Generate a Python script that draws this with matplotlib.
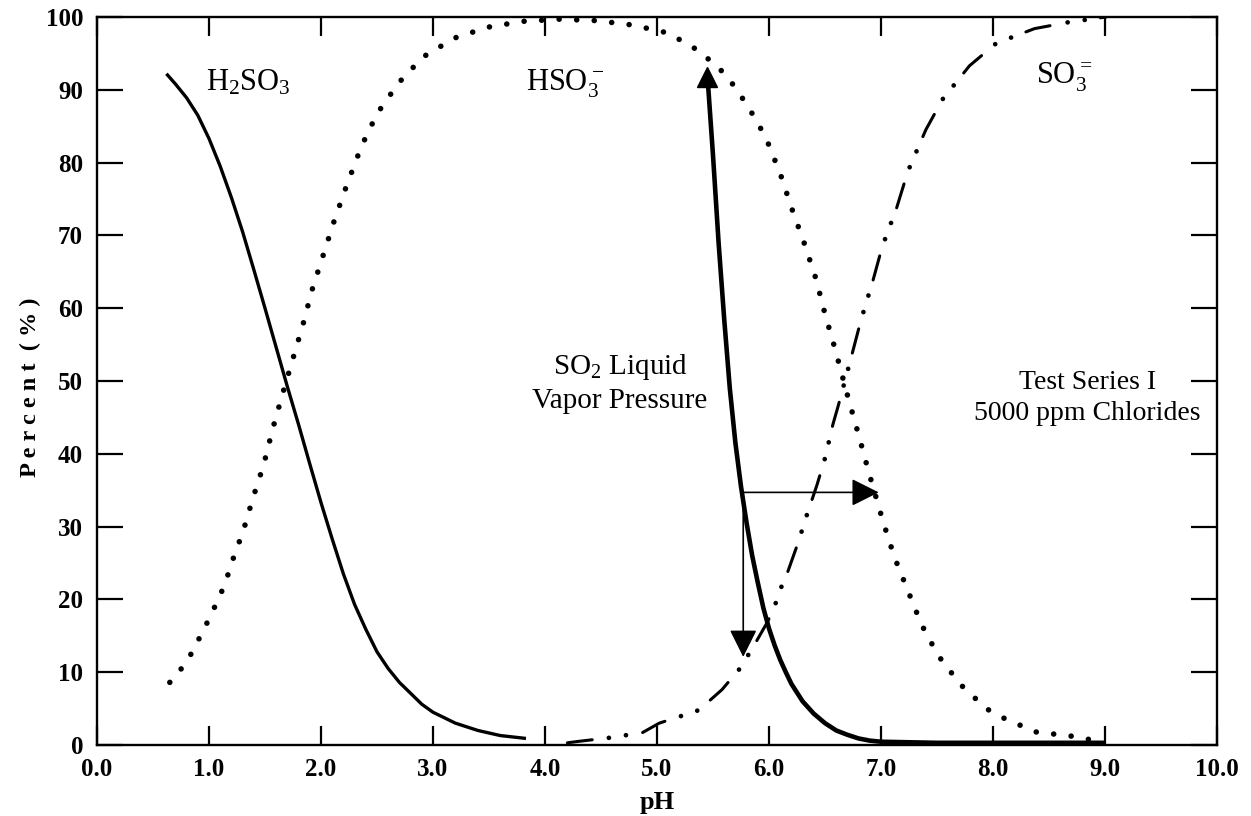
import matplotlib
matplotlib.use("Agg")
import matplotlib.pyplot as plt

plt.rcParams['font.family'] = ['Liberation Serif', 'DejaVu Serif']
plt.rcParams['mathtext.default'] = 'regular'

# H2SO3 (solid)
h2so3_ph = [0.62, 0.7, 0.8, 0.9, 1.0, 1.1, 1.2, 1.3, 1.4, 1.5, 1.6, 1.7, 1.8, 1.9, 2.0,
            2.1, 2.2, 2.3, 2.4, 2.5, 2.6, 2.7, 2.8, 2.9, 3.0, 3.2, 3.4, 3.6, 3.83]
h2so3_pct = [92.2, 90.8, 88.9, 86.5, 83.3, 79.5, 75.2, 70.5, 65.3, 60.0, 54.6, 49.2, 44.0,
             38.6, 33.3, 28.3, 23.5, 19.3, 15.9, 12.8, 10.5, 8.6, 7.1, 5.6, 4.5, 3.0, 2.0,
             1.3, 0.9]

# HSO3- (dotted)
hso3_ph = [0.65, 0.77, 0.86, 0.93, 1.00, 1.07, 1.14, 1.19, 1.24, 1.30, 1.39, 1.49, 1.57,
           1.66, 1.75, 1.84, 1.92, 2.02, 2.12, 2.23, 2.36, 2.50, 2.69, 2.91, 3.19, 3.49,
           3.80, 4.13, 4.46, 4.78, 5.10, 5.38, 5.62, 5.81, 5.97, 6.10, 6.21, 6.32, 6.42,
           6.50, 6.59, 6.71, 6.80, 6.89, 7.02, 7.12, 7.24, 7.36, 7.51, 7.71, 7.94, 8.08,
           8.38, 8.71, 8.88]
hso3_pct = [8.6, 10.8, 13.0, 15.2, 17.3, 19.6, 22.0, 24.4, 26.7, 29.1, 33.8, 38.6, 43.5,
            48.4, 53.1, 57.8, 62.5, 67.3, 72.1, 76.9, 82.2, 86.7, 90.9, 94.5, 97.1, 98.6,
            99.4, 99.7, 99.5, 98.9, 97.8, 95.3, 92.0, 87.8, 83.5, 78.5, 73.4, 68.7, 64.0,
            59.2, 54.4, 47.5, 42.6, 37.5, 30.6, 25.8, 21.2, 16.6, 12.3, 8.3, 5.0, 3.8,
            1.8, 1.2, 0.7]

# SO3= (dash-dot-dot)
so3_ph = [4.20, 4.30, 4.58, 4.87, 5.02, 5.22, 5.35, 5.47, 5.58, 5.74, 5.86, 5.99, 6.06,
          6.11, 6.17, 6.26, 6.34, 6.43, 6.50, 6.57, 6.62, 6.74, 6.82, 6.93, 7.01, 7.14,
          7.24, 7.40, 7.55, 7.79, 8.03, 8.37, 8.68, 9.01]
so3_pct = [0.3, 0.5, 1.0, 1.7, 3.0, 4.0, 4.6, 6.1, 7.6, 10.5, 13.5, 17.0, 19.5,
           21.7, 23.9, 27.8, 31.7, 35.8, 39.4, 44.0, 46.7, 53.6, 58.3, 63.9, 68.4, 73.8,
           78.8, 84.5, 88.7, 93.3, 96.4, 98.4, 99.3, 100.0]

# SO2 liquid vapor pressure (thick)
vp_ph = [5.45, 5.5, 5.55, 5.6, 5.65, 5.7, 5.75, 5.8, 5.85, 5.9, 5.95, 6.0, 6.05, 6.1,
         6.15, 6.2, 6.3, 6.4, 6.5, 6.6, 6.7, 6.8, 6.9, 7.0, 7.5, 9.0]
vp_pct = [92.0, 81.0, 69.0, 58.5, 49.0, 41.5, 35.5, 30.5, 26.0, 22.3, 18.8, 16.0, 13.7,
          11.7, 10.0, 8.4, 6.0, 4.3, 3.0, 2.0, 1.4, 0.9, 0.6, 0.45, 0.3, 0.3]

# arrows from the vapour pressure curve
arrow_start = (5.77, 34.7)
arrow_right_end = (6.98, 34.7)
arrow_down_end = (5.77, 12.1)

x_ticks = [0, 1, 2, 3, 4, 5, 6, 7, 8, 9, 10]
x_labels = ['0.0', '1.0', '2.0', '3.0', '4.0', '5.0', '6.0', '7.0', '8.0', '9.0', '10.0']
y_ticks = [0, 10, 20, 30, 40, 50, 60, 70, 80, 90, 100]

fig = plt.figure(figsize=(12.51, 8.16), dpi=100)
ax = fig.add_axes([97 / 1251, 71 / 816, 1120 / 1251, 728 / 816])

ax.plot(h2so3_ph, h2so3_pct, color='black', lw=2.4, solid_capstyle='butt')
ax.plot(hso3_ph, hso3_pct, color='black', lw=4.0, linestyle=(0, (0.01, 3.15)),
        dash_capstyle='round')

# dash-dot-dot drawn as dashes plus bigger dots, period 54.7 pt
period = 54.7
ax.plot(so3_ph, so3_pct, color='black', lw=2.2,
        linestyle=(0, (18 / 2.2, (period - 18) / 2.2)), dash_capstyle='round')
ax.plot(so3_ph, so3_pct, color='black', lw=3.4,
        linestyle=((period - 30) / 3.4, (0.01, 12.4 / 3.4, 0.01, (period - 12.4) / 3.4)),
        dash_capstyle='round')

ax.plot(vp_ph, vp_pct, color='black', lw=3.3, solid_capstyle='butt')
ax.plot([vp_ph[0]], [vp_pct[0] - 0.3], marker='^', markersize=15, color='black')

arrow_kw = dict(arrowstyle='-|>,head_length=1.7,head_width=0.85', lw=1.2,
                color='black', shrinkA=0, shrinkB=0)
ax.annotate('', xy=arrow_right_end, xytext=arrow_start, arrowprops=arrow_kw)
ax.annotate('', xy=arrow_down_end, xytext=arrow_start, arrowprops=arrow_kw)

ax.text(1.35, 89.9, 'H$_2$SO$_3$', fontsize=22, ha='center', va='baseline')
ax.text(4.18, 89.9, 'HSO$_3^-$', fontsize=22, ha='center', va='baseline')
ax.text(8.64, 90.7, 'SO$_3^=$', fontsize=22, ha='center', va='baseline')
ax.text(4.67, 49.7, 'SO$_2$ Liquid\nVapor Pressure', fontsize=21, ha='center',
        va='center', linespacing=1.32)
ax.text(8.84, 47.7, 'Test Series I\n5000 ppm Chlorides', fontsize=20, ha='center',
        va='center', linespacing=1.32)

ax.set_xlim(0, 10)
ax.set_ylim(0, 100)
ax.set_xticks(x_ticks)
ax.set_xticklabels(x_labels)
ax.set_yticks(y_ticks)
for s in ax.spines.values():
    s.set_linewidth(1.7)
ax.tick_params(axis='both', direction='in', width=1.6, top=True, right=True,
               labelsize=18)
ax.tick_params(axis='x', length=14, pad=9)
ax.tick_params(axis='y', length=19, pad=10)
for lab in ax.get_xticklabels() + ax.get_yticklabels():
    lab.set_fontweight('bold')

fig.text(30 / 1251, 1 - 387 / 816, 'P e r c e n t  ( % )', rotation=90, fontsize=17.5,
         fontweight='bold', ha='center', va='center')
fig.text(657 / 1251, 1 - 802 / 816, 'pH', fontsize=19, fontweight='bold',
         ha='center', va='center')

fig.savefig('out.png', dpi=100)
